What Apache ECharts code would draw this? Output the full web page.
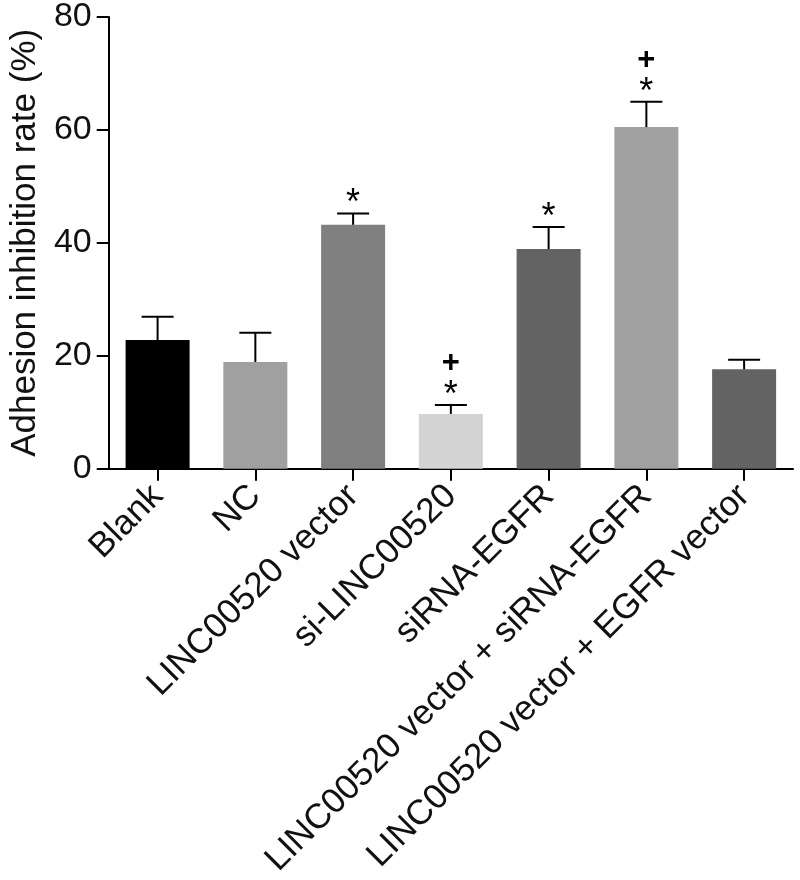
<!DOCTYPE html>
<html>
<head>
<meta charset="utf-8">
<script src="https://cdn.jsdelivr.net/npm/echarts@6/dist/echarts.min.js"></script>
<style>html,body{margin:0;padding:0;background:#fff;}#chart{width:800px;height:880px;}</style>
</head>
<body>
<div id="chart"></div>
<script>
const categories = ['Blank', 'NC', 'LINC00520 vector', 'si-LINC00520', 'siRNA-EGFR', 'LINC00520 vector + siRNA-EGFR', 'LINC00520 vector + EGFR vector'];
const means = [22.8, 18.9, 43.2, 9.7, 38.9, 60.5, 17.6];
const errors = [4.1, 5.2, 2.0, 1.6, 3.9, 4.5, 1.7];
const barColors = ['#000000', '#a0a0a0', '#808080', '#d3d3d3', '#636363', '#a0a0a0', '#636363'];
const starMarks = ['', '', '*', '*', '*', '*', ''];
const plusMarks = ['', '', '', '+', '', '+', ''];
const yTicks = [0, 20, 40, 60, 80];
const yTitle = 'Adhesion inhibition rate (%)';

const FONT = '"Liberation Sans", Arial, Helvetica, sans-serif';
const chart = echarts.init(document.getElementById('chart'), null, {renderer: 'canvas'});

const errData = categories.map((c, i) => [i, means[i], means[i] + errors[i]]);

chart.setOption({
  animation: false,
  backgroundColor: '#ffffff',
  grid: {left: 107, right: 7, top: 16, bottom: 405, containLabel: false},
  xAxis: {
    type: 'category',
    data: categories,
    boundaryGap: true,
    axisLine: {show: true, lineStyle: {color: '#000', width: 2}},
    axisTick: {show: true, alignWithLabel: true, length: 12, lineStyle: {color: '#000', width: 2}},
    axisLabel: {rotate: 45, interval: 0, margin: 22, color: '#111', fontSize: 35, fontFamily: FONT},
    splitLine: {show: false}
  },
  yAxis: {
    type: 'value',
    min: yTicks[0],
    max: yTicks[yTicks.length - 1],
    interval: yTicks[1] - yTicks[0],
    name: yTitle,
    nameLocation: 'middle',
    nameRotate: 90,
    nameGap: 64,
    nameTextStyle: {color: '#111', fontSize: 35, fontFamily: FONT},
    axisLine: {show: true, lineStyle: {color: '#000', width: 2}},
    axisTick: {show: true, length: 12, lineStyle: {color: '#000', width: 2}},
    axisLabel: {margin: 17, color: '#111', fontSize: 34, fontFamily: FONT},
    splitLine: {show: false}
  },
  series: [
    {
      type: 'bar',
      barWidth: 64,
      data: means.map((v, i) => ({value: v, itemStyle: {color: barColors[i]}})),
      z: 2
    },
    {
      type: 'custom',
      z: 3,
      data: errData,
      renderItem: function (params, api) {
        const i = params.dataIndex;
        const base = api.coord([api.value(0), api.value(1)]);
        const top = api.coord([api.value(0), api.value(2)]);
        const half = 16;
        const style = {stroke: '#000', lineWidth: 2};
        const children = [
          {type: 'line', shape: {x1: top[0], y1: base[1], x2: top[0], y2: top[1]}, style: style},
          {type: 'line', shape: {x1: top[0] - half, y1: top[1], x2: top[0] + half, y2: top[1]}, style: style}
        ];
        if (starMarks[i]) {
          children.push({type: 'text', x: top[0], y: top[1] - 9,
            style: {text: starMarks[i], fill: '#000', font: '36px ' + FONT, align: 'center', verticalAlign: 'middle'}});
        }
        if (plusMarks[i]) {
          children.push({type: 'text', x: top[0], y: top[1] - 41,
            style: {text: plusMarks[i], fill: '#000', font: 'bold 31px ' + FONT, align: 'center', verticalAlign: 'middle'}});
        }
        return {type: 'group', children: children};
      }
    }
  ]
});
</script>
</body>
</html>
